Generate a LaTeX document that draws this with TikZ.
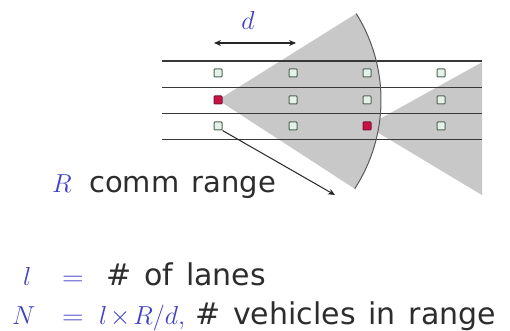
\RequirePackage{fix-cm}
\documentclass[tikz,border=0pt]{standalone}
\usepackage{fontspec}
\setsansfont[WordSpace=1.35]{DejaVu Sans}
\usetikzlibrary{arrows.meta}
\definecolor{mblue}{RGB}{64,64,200}
\definecolor{txt}{RGB}{45,45,45}
\definecolor{sect}{RGB}{200,200,200}
\definecolor{vedge}{RGB}{80,100,88}
\definecolor{vfill}{RGB}{228,242,234}
\definecolor{vred}{RGB}{204,17,68}
\definecolor{vrededge}{RGB}{120,20,50}
\begin{document}
\begin{tikzpicture}[x=1pt,y=-1pt,
  veh/.style={draw=vedge,fill=vfill,line width=1pt,minimum size=8pt,inner sep=0pt,rounded corners=0.8pt},
  redveh/.style={veh,draw=vrededge,fill=vred},
  lane/.style={draw=black!78,line width=1.2pt},
  rangearc/.style={draw=black!65,line width=1pt},
  mathlbl/.style={text=mblue,inner sep=0pt,font=\fontsize{26}{29}\selectfont},
  txtlbl/.style={text=txt,inner sep=0pt,font=\sffamily\fontsize{29}{32}\selectfont},
  eqtxt/.style={txtlbl,font=\sffamily\fontsize{30}{33}\selectfont},
  ptr/.style={draw=black!85,line width=1pt},
]
\fill[white] (0,0) rectangle (510,331);
\useasboundingbox (0,0) rectangle (510,331);

% vehicle positions (centres)
\coordinate (c12) at (218,100);
\coordinate (c33) at (367,126);

% range sectors
\fill[sect] (c12) -- +(-32:163) arc[start angle=-32,end angle=33,radius=163] -- cycle;
\begin{scope}
  \clip (0,0) rectangle (482,331);
  \fill[sect] (c33) -- +(-29:260) -- +(31:260) -- cycle;
\end{scope}

% lanes
\foreach \i/\y in {1/61,2/87.5,3/113.5,4/139.5}{
  \coordinate (lw\i) at (162,\y);
  \coordinate (le\i) at (482,\y);
  \draw[lane] (lw\i) -- (le\i);
}

% range boundary
\draw[rangearc] (c12) ++(-32:163) arc[start angle=-32,end angle=33,radius=163];

% vehicles
\foreach \n/\x/\y in {11/218/73,21/293/73,31/367/73,41/441/73,
                      22/293/100,32/367/100,42/441/100,
                      13/218/126,23/293/126,43/441/126}{
  \node[veh] (v\n) at (\x,\y) {};
}
\node[redveh] (v12) at (c12) {};
\node[redveh] (v33) at (c33) {};

% spacing d
\coordinate (dl) at (214,43);
\coordinate (dr) at (296,43);
\draw[ptr,line width=1.2pt,{Stealth[length=7pt,width=6pt]}-{Stealth[length=7pt,width=6pt]}] (dl) -- (dr);
\node[mathlbl,anchor=base] (dlab) at (248,30) {$d$};

% comm range pointer
\coordinate (rend) at (335,195);
\draw[ptr,-{Stealth[length=7pt,width=6pt]}] (v13.south east) -- (rend);
\node[mathlbl,anchor=base west] (Rlab) at (52,192) {$R$};
\node[txtlbl,anchor=base west] (commlab) at (89,192) {comm range};

% equations
\node[mathlbl,anchor=base west] (l1) at (23,285) {$l$};
\node[mathlbl,anchor=base west] (eq1) at (62,285) {\scalebox{1.15}[1]{$=$}};
\node[eqtxt,anchor=base west] (t1) at (106,285) {\# of lanes};
\node[mathlbl,anchor=base west] (N1) at (12,324) {$N$};
\node[mathlbl,anchor=base west] (eq2) at (62,324) {\scalebox{1.15}[1]{$=$}};
\node[mathlbl,anchor=base west] (f1) at (99,324) {$l\mskip2mu{\times}\mskip2mu R/d,$};
\node[eqtxt,anchor=base west] (t2) at (195,324) {\# vehicles in range};
\end{tikzpicture}
\end{document}
